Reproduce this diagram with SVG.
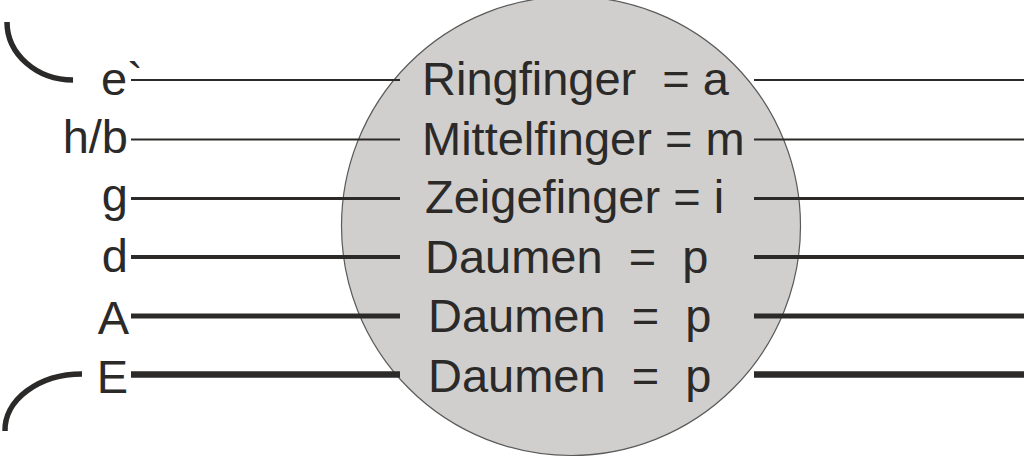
<svg xmlns="http://www.w3.org/2000/svg" width="1024" height="459" viewBox="0 0 1024 459">
<style>
  .t { font-family: "Liberation Sans", Arial, sans-serif; font-size: 47px; fill: #2b2a29; white-space: pre; }
  .l { text-anchor: end; }
  .s { stroke: #2b2a29; fill: none; }
</style>
<rect width="1024" height="459" fill="#ffffff"/>
<g id="hand">
  <circle cx="571" cy="226" r="229.5" fill="#d0cfce" stroke="#5a5a5a" stroke-width="1.2"/>
</g>
<g id="arcs">
  <path class="s" d="M7,22 A66 58 0 0 0 73,80" stroke-width="5.5"/>
  <path class="s" d="M82,374 A77 56 0 0 0 5,431" stroke-width="5.5"/>
</g>
<g id="connectors">
  <line class="s" x1="131" y1="80" x2="400" y2="80" stroke-width="1.8"/>
  <line class="s" x1="131" y1="139.5" x2="400" y2="139.5" stroke-width="2.2"/>
  <line class="s" x1="131" y1="198.5" x2="400" y2="198.5" stroke-width="3.2"/>
  <line class="s" x1="131" y1="257" x2="400" y2="257" stroke-width="4"/>
  <line class="s" x1="131" y1="316" x2="400" y2="316" stroke-width="5"/>
  <line class="s" x1="131" y1="374.5" x2="400" y2="374.5" stroke-width="6.5"/>
  <line class="s" x1="754" y1="80" x2="1024" y2="80" stroke-width="1.8"/>
  <line class="s" x1="754" y1="139.5" x2="1024" y2="139.5" stroke-width="2.2"/>
  <line class="s" x1="754" y1="198.5" x2="1024" y2="198.5" stroke-width="3.2"/>
  <line class="s" x1="754" y1="257" x2="1024" y2="257" stroke-width="4"/>
  <line class="s" x1="754" y1="316" x2="1024" y2="316" stroke-width="5"/>
  <line class="s" x1="754" y1="374.5" x2="1024" y2="374.5" stroke-width="6.5"/>
</g>
<g id="string-labels">
  <text class="t" x="101" y="95">e`</text>
  <text class="t l" x="128" y="153">h/b</text>
  <text class="t l" x="128" y="211">g</text>
  <text class="t l" x="128" y="272">d</text>
  <text class="t l" x="129" y="334">A</text>
  <text class="t l" x="128" y="393">E</text>
</g>
<g id="finger-labels">
  <text class="t" x="422" y="95">Ringfinger  = a</text>
  <text class="t" x="422" y="155">Mittelfinger = m</text>
  <text class="t" x="425" y="213">Zeigefinger = i</text>
  <text class="t" x="425" y="273">Daumen  =  p</text>
  <text class="t" x="428" y="332">Daumen  =  p</text>
  <text class="t" x="428" y="392">Daumen  =  p</text>
</g>
</svg>
